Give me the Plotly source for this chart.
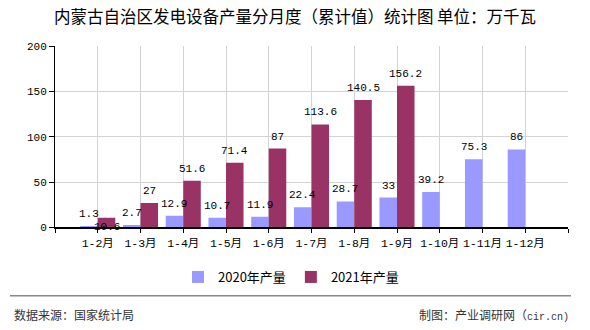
import plotly.graph_objects as go

categories = ["1-2月", "1-3月", "1-4月", "1-5月", "1-6月", "1-7月", "1-8月", "1-9月", "1-10月", "1-11月", "1-12月"]
prod_2020 = [1.3, 2.7, 12.9, 10.7, 11.9, 22.4, 28.7, 33, 39.2, 75.3, 86]
prod_2021 = [10.6, 27, 51.6, 71.4, 87, 113.6, 140.5, 156.2, None, None, None]
series_names = ["2020年产量", "2021年产量"]
colors = ["#9999FF", "#993366"]

L, R, T, B = 55, 22, 46, 101
W, H = 590, 330
pw, ph = W - L - R, H - T - B

xs = list(range(len(categories)))
bargap = 0.18
half = (1 - bargap) / 4  # center offset of each bar in a group of two

fig = go.Figure()
for name, vals, col in zip(series_names, [prod_2020, prod_2021], colors):
    fig.add_trace(go.Bar(x=xs, y=vals, name=name, marker=dict(color=col, line=dict(width=0))))

label_font = dict(family="Liberation Mono, Noto Sans CJK SC", size=11, color="#000")
annotations = []
for i, (a, b) in enumerate(zip(prod_2020, prod_2021)):
    if a is not None:
        annotations.append(dict(x=i - half, y=a, text=f"{a:g}", showarrow=False,
                                yanchor="bottom", yshift=4, font=label_font))
    if b is not None:
        if a is not None and abs(b - a) < 15:
            annotations.append(dict(x=i + half, y=0, text=f"{b:g}", showarrow=False,
                                    yanchor="middle", yshift=0, font=label_font))
        else:
            annotations.append(dict(x=i + half, y=b, text=f"{b:g}", showarrow=False,
                                    yanchor="bottom", yshift=4, font=label_font))

foot_font = dict(family="Noto Sans CJK SC", size=12, color="#333")
annotations.append(dict(xref="paper", yref="paper", x=(12 - L) / pw, y=(ph - (317 - T)) / ph,
                        text="数据来源：国家统计局", showarrow=False, xanchor="left", yanchor="middle",
                        font=foot_font))
annotations.append(dict(xref="paper", yref="paper", x=(571 - L) / pw, y=(ph - (317 - T)) / ph,
                        text="制图：产业调研网（<span style='font-family:Liberation Mono;font-size:10px'>cir.cn)</span>",
                        showarrow=False, xanchor="right", yanchor="middle",
                        font=foot_font))

shapes = [dict(type="line", xref="paper", yref="paper",
               x0=(10 - L) / pw, x1=(571 - L) / pw,
               y0=(ph - (298 - T)) / ph, y1=(ph - (298 - T)) / ph,
               line=dict(color="#888888", width=1.5))]

fig.update_layout(
    width=W, height=H,
    margin=dict(l=L, r=R, t=T, b=B),
    paper_bgcolor="white", plot_bgcolor="white",
    barmode="group", bargap=bargap, bargroupgap=0,
    title=dict(text="内蒙古自治区发电设备产量分月度（累计值）统计图 单位：万千瓦",
               x=295 / W, xref="container", xanchor="center",
               y=1 - 17 / H, yref="container", yanchor="middle",
               font=dict(family="Noto Sans CJK SC", size=16.5, color="#000")),
    legend=dict(orientation="h", xref="container", yref="container",
                x=291 / W, xanchor="center", y=1 - 277 / H, yanchor="middle",
                font=dict(family="Noto Sans CJK SC", size=13, color="#000"),
                bgcolor="rgba(0,0,0,0)", itemwidth=30),
    annotations=annotations,
    shapes=shapes,
    showlegend=True,
)

fig.update_xaxes(
    range=[-1, len(categories)],
    tickmode="array",
    tickvals=[-1] + xs + [len(categories)],
    ticktext=[""] + categories + [""],
    showgrid=True, gridcolor="#d3d3d3", gridwidth=1,
    showline=True, linecolor="#000", linewidth=1.5,
    ticks="outside", ticklen=4, tickcolor="#000",
    tickfont=dict(family="Liberation Mono, Noto Sans CJK SC", size=11.5, color="#000"),
    zeroline=False, fixedrange=True,
)
fig.update_yaxes(
    range=[0, 200], tickmode="linear", tick0=0, dtick=50,
    showgrid=True, gridcolor="#d3d3d3", gridwidth=1,
    showline=True, linecolor="#000", linewidth=1,
    ticks="outside", ticklen=5, tickcolor="#000",
    tickfont=dict(family="Liberation Mono", size=11, color="#000"),
    zeroline=False, fixedrange=True,
)

fig.write_html("out.html")
